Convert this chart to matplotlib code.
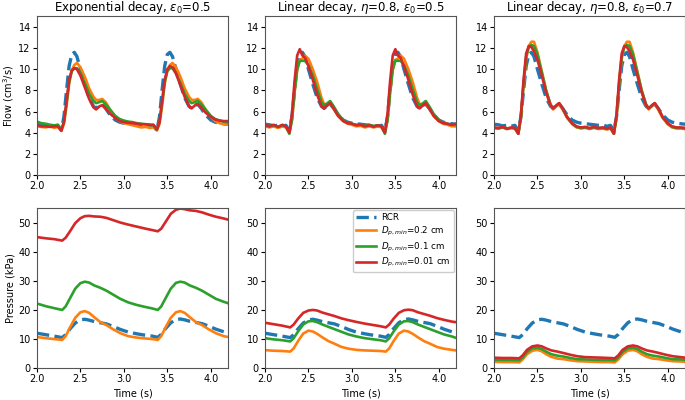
import matplotlib
matplotlib.use("Agg")
import matplotlib.pyplot as plt

# ---------------- data ----------------
titles = ["Exponential decay, $\\epsilon_0$=0.5",
          "Linear decay, $\\eta$=0.8, $\\epsilon_0$=0.5",
          "Linear decay, $\\eta$=0.8, $\\epsilon_0$=0.7"]
labels = ["RCR", "$D_{p,min}$=0.2 cm", "$D_{p,min}$=0.1 cm", "$D_{p,min}$=0.01 cm"]
xticks = [2.0, 2.5, 3.0, 3.5, 4.0]

t_flow = [2.00, 2.05, 2.10, 2.15, 2.20, 2.24, 2.28, 2.31, 2.34, 2.37, 2.40, 2.43, 2.46, 2.50,
          2.55, 2.60, 2.65, 2.68, 2.72, 2.75, 2.79, 2.84, 2.90, 2.95, 3.00, 3.05, 3.10, 3.15,
          3.20, 3.25, 3.30, 3.34, 3.38, 3.41, 3.44, 3.47, 3.50, 3.53, 3.56, 3.60, 3.65, 3.70,
          3.75, 3.78, 3.82, 3.85, 3.89, 3.94, 4.00, 4.05, 4.10, 4.15, 4.20]

flow_rcr = [4.80, 4.75, 4.65, 4.70, 4.62, 4.70, 4.20, 5.50, 8.00, 10.3, 11.4, 11.6, 11.2, 10.0,
            8.60, 7.30, 6.50, 6.30, 6.60, 6.70, 6.30, 5.70, 5.20, 5.00, 4.90, 4.85, 4.80, 4.75,
            4.70, 4.75, 4.60, 4.70, 4.20, 5.50, 8.00, 10.3, 11.4, 11.6, 11.2, 10.0, 8.60, 7.30,
            6.50, 6.30, 6.60, 6.70, 6.30, 5.70, 5.20, 5.00, 4.90, 4.85, 4.80]

# Exponential decay, eps0=0.5
flow_exp_02 = [4.60, 4.55, 4.50, 4.60, 4.45, 4.55, 4.20, 4.80, 6.50, 8.60, 9.90, 10.4, 10.6, 10.2,
               9.30, 8.20, 7.40, 7.10, 7.10, 7.20, 6.90, 6.20, 5.50, 5.10, 4.90, 4.80, 4.70, 4.60,
               4.50, 4.55, 4.45, 4.50, 4.20, 4.80, 6.50, 8.60, 9.90, 10.4, 10.6, 10.2, 9.30, 8.20,
               7.40, 7.10, 7.10, 7.20, 6.90, 6.20, 5.50, 5.10, 4.90, 4.80, 4.75]
flow_exp_01 = [5.05, 4.90, 4.85, 4.75, 4.70, 4.75, 4.30, 5.00, 6.80, 8.80, 9.80, 10.1, 10.1, 9.60,
               8.70, 7.70, 7.00, 6.80, 6.90, 7.00, 6.70, 6.20, 5.60, 5.30, 5.15, 5.05, 5.00, 4.90,
               4.85, 4.80, 4.75, 4.70, 4.30, 5.00, 6.80, 8.80, 9.80, 10.1, 10.1, 9.60, 8.70, 7.70,
               7.00, 6.80, 6.90, 7.00, 6.70, 6.20, 5.60, 5.30, 5.15, 5.05, 5.00]
flow_exp_001 = [4.70, 4.60, 4.60, 4.55, 4.60, 4.60, 4.20, 5.00, 7.00, 9.00, 9.90, 10.1, 10.0, 9.40,
                8.30, 7.20, 6.40, 6.20, 6.50, 6.60, 6.30, 5.80, 5.40, 5.10, 5.00, 4.95, 4.90, 4.85,
                4.80, 4.80, 4.75, 4.75, 4.30, 5.00, 7.00, 9.00, 10.0, 10.3, 10.2, 9.60, 8.50, 7.40,
                6.50, 6.30, 6.60, 6.70, 6.40, 5.90, 5.50, 5.25, 5.15, 5.10, 5.10]

# Linear decay, eta=0.8, eps0=0.5
flow_lin5_02 = [4.60, 4.50, 4.60, 4.45, 4.60, 4.50, 4.00, 5.20, 7.80, 9.90, 10.9, 11.0, 11.3, 11.0,
                10.0, 8.80, 7.30, 6.70, 6.60, 6.80, 6.30, 5.60, 5.10, 4.85, 4.75, 4.60, 4.65, 4.50,
                4.60, 4.50, 4.60, 4.50, 4.00, 5.20, 7.80, 9.90, 10.9, 11.0, 11.3, 11.0, 10.0, 8.80,
                7.30, 6.70, 6.60, 6.80, 6.30, 5.60, 5.10, 4.85, 4.75, 4.60, 4.60]
flow_lin5_01 = [4.70, 4.60, 4.70, 4.55, 4.70, 4.60, 3.90, 5.20, 7.90, 10.0, 10.8, 10.8, 10.8, 10.4,
                9.40, 8.10, 6.90, 6.60, 6.80, 7.00, 6.50, 5.80, 5.20, 4.95, 4.85, 4.75, 4.80, 4.65,
                4.75, 4.65, 4.70, 4.60, 3.90, 5.20, 7.90, 10.0, 10.8, 10.8, 10.8, 10.4, 9.40, 8.10,
                6.90, 6.60, 6.80, 7.00, 6.50, 5.80, 5.20, 4.95, 4.85, 4.75, 4.75]
flow_lin5_001 = [4.75, 4.60, 4.75, 4.55, 4.75, 4.60, 4.00, 5.80, 8.90, 11.3, 11.9, 11.3, 11.1, 10.3,
                 9.00, 7.60, 6.50, 6.30, 6.60, 6.80, 6.30, 5.60, 5.10, 4.90, 4.85, 4.70, 4.75, 4.60,
                 4.70, 4.55, 4.70, 4.60, 4.00, 5.80, 8.90, 11.3, 11.9, 11.3, 11.1, 10.3, 9.00, 7.60,
                 6.50, 6.30, 6.60, 6.80, 6.30, 5.60, 5.10, 4.90, 4.85, 4.75, 4.85]

# Linear decay, eta=0.8, eps0=0.7
flow_lin7_02 = [4.45, 4.40, 4.50, 4.35, 4.45, 4.40, 3.90, 5.40, 8.50, 11.0, 12.2, 12.6, 12.6, 11.6,
                9.80, 8.00, 6.60, 6.20, 6.50, 6.70, 6.20, 5.40, 4.80, 4.50, 4.40, 4.45, 4.35, 4.45,
                4.35, 4.40, 4.30, 4.40, 3.90, 5.40, 8.50, 11.0, 12.2, 12.6, 12.6, 11.6, 9.80, 8.00,
                6.60, 6.20, 6.50, 6.70, 6.20, 5.40, 4.80, 4.50, 4.40, 4.40, 4.35]
flow_lin7_01 = [4.45, 4.40, 4.50, 4.35, 4.45, 4.40, 3.90, 5.50, 8.70, 11.2, 12.1, 12.3, 12.2, 11.4,
                9.70, 8.00, 6.70, 6.30, 6.60, 6.80, 6.30, 5.50, 4.85, 4.55, 4.45, 4.50, 4.40, 4.50,
                4.40, 4.45, 4.35, 4.45, 3.90, 5.50, 8.70, 11.2, 12.1, 12.3, 12.2, 11.4, 9.70, 8.00,
                6.70, 6.30, 6.60, 6.80, 6.30, 5.50, 4.85, 4.55, 4.45, 4.45, 4.40]
flow_lin7_001 = [4.50, 4.45, 4.55, 4.40, 4.50, 4.45, 3.90, 5.70, 9.00, 11.5, 12.2, 12.1, 11.7, 10.9,
                 9.40, 7.80, 6.60, 6.30, 6.60, 6.80, 6.30, 5.50, 4.90, 4.60, 4.50, 4.55, 4.45, 4.55,
                 4.45, 4.50, 4.40, 4.50, 3.90, 5.70, 9.00, 11.5, 12.2, 12.1, 11.7, 10.9, 9.40, 7.80,
                 6.60, 6.30, 6.60, 6.80, 6.30, 5.50, 4.90, 4.60, 4.50, 4.50, 4.45]

t_pres = [2.00, 2.10, 2.20, 2.29, 2.33, 2.38, 2.44, 2.50, 2.55, 2.60, 2.66, 2.73, 2.80, 2.88,
          2.96, 3.05, 3.15, 3.25, 3.33, 3.39, 3.43, 3.48, 3.54, 3.60, 3.65, 3.70, 3.76, 3.83,
          3.90, 3.98, 4.06, 4.15, 4.20]

pres_rcr = [12.0, 11.5, 11.0, 10.5, 11.5, 13.5, 15.5, 16.6, 16.8, 16.5, 16.0, 15.6, 15.2, 14.3,
            13.3, 12.4, 11.8, 11.3, 11.0, 10.6, 11.6, 13.6, 15.6, 16.7, 16.9, 16.6, 16.1, 15.7,
            15.3, 14.4, 13.4, 12.5, 12.1]

pres_exp_02 = [10.7, 10.3, 10.0, 9.7, 11.0, 14.0, 17.3, 19.2, 19.6, 19.0, 17.5, 15.8, 14.8, 13.3,
               12.0, 11.0, 10.5, 10.2, 10.0, 9.7, 11.0, 14.0, 17.3, 19.2, 19.6, 19.0, 17.5, 15.8,
               14.8, 13.3, 12.0, 11.0, 10.7]
pres_exp_01 = [22.2, 21.3, 20.6, 20.0, 21.2, 24.0, 27.3, 29.2, 29.7, 29.4, 28.4, 27.6, 26.6, 25.2,
               23.8, 22.6, 21.7, 21.0, 20.5, 20.0, 21.2, 24.0, 27.3, 29.3, 29.7, 29.4, 28.4, 27.6,
               26.6, 25.2, 23.8, 22.8, 22.3]
pres_exp_001 = [45.0, 44.6, 44.3, 43.8, 44.8, 47.0, 49.8, 51.5, 52.2, 52.3, 52.1, 52.0, 51.6, 50.8,
                50.0, 49.3, 48.6, 47.9, 47.4, 47.0, 47.9, 50.2, 53.0, 54.4, 54.8, 54.6, 54.2, 54.0,
                53.5, 52.7, 52.0, 51.4, 51.0]

pres_lin5_02 = [6.2, 6.0, 5.9, 5.7, 6.8, 9.3, 11.9, 12.9, 12.6, 11.8, 10.6, 9.3, 8.4, 7.3,
                6.7, 6.3, 6.1, 6.0, 5.9, 5.7, 6.8, 9.3, 11.9, 12.9, 12.6, 11.8, 10.6, 9.3,
                8.4, 7.3, 6.7, 6.3, 6.1]
pres_lin5_01 = [10.3, 9.9, 9.6, 9.2, 10.3, 12.6, 15.0, 16.1, 16.2, 15.8, 15.0, 14.2, 13.4, 12.5,
                11.6, 10.9, 10.3, 9.9, 9.6, 9.2, 10.3, 12.6, 15.0, 16.1, 16.2, 15.8, 15.0, 14.2,
                13.4, 12.5, 11.6, 10.9, 10.4]
pres_lin5_001 = [15.6, 15.1, 14.6, 14.0, 15.0, 17.0, 19.0, 19.8, 20.0, 19.8, 19.1, 18.5, 17.9, 17.1,
                 16.5, 15.9, 15.3, 14.8, 14.4, 14.0, 15.0, 17.0, 19.0, 19.9, 20.1, 19.9, 19.2, 18.6,
                 18.0, 17.2, 16.6, 16.0, 15.8]

pres_lin7_02 = [2.2, 2.1, 2.1, 2.0, 3.0, 4.8, 6.0, 6.3, 5.8, 4.8, 3.9, 3.3, 3.1, 2.7,
                2.4, 2.3, 2.2, 2.1, 2.1, 2.0, 3.0, 4.8, 6.0, 6.3, 5.8, 4.8, 3.9, 3.3,
                3.1, 2.7, 2.4, 2.3, 2.2]
pres_lin7_01 = [2.9, 2.8, 2.8, 2.7, 3.7, 5.6, 6.8, 7.0, 6.6, 5.7, 4.8, 4.3, 4.0, 3.5,
                3.1, 3.0, 2.9, 2.8, 2.8, 2.7, 3.7, 5.6, 6.8, 7.0, 6.6, 5.7, 4.8, 4.3,
                4.0, 3.5, 3.1, 3.0, 2.9]
pres_lin7_001 = [3.6, 3.5, 3.5, 3.4, 4.4, 6.3, 7.5, 7.8, 7.5, 6.8, 6.1, 5.7, 5.2, 4.6,
                 4.1, 3.8, 3.7, 3.6, 3.5, 3.4, 4.4, 6.3, 7.5, 7.8, 7.5, 6.8, 6.1, 5.7,
                 5.2, 4.6, 4.1, 3.8, 3.6]

flows = [
    [flow_rcr, flow_exp_02, flow_exp_01, flow_exp_001],
    [flow_rcr, flow_lin5_02, flow_lin5_01, flow_lin5_001],
    [flow_rcr, flow_lin7_02, flow_lin7_01, flow_lin7_001],
]
pressures = [
    [pres_rcr, pres_exp_02, pres_exp_01, pres_exp_001],
    [pres_rcr, pres_lin5_02, pres_lin5_01, pres_lin5_001],
    [pres_rcr, pres_lin7_02, pres_lin7_01, pres_lin7_001],
]

# ---------------- style ----------------
colors = ["#1f77b4", "#ff7f0e", "#2ca02c", "#d62728"]
styles = ["--", "-", "-", "-"]
widths = [2.4, 1.9, 1.9, 1.9]

plt.rcParams["font.family"] = "DejaVu Sans"
fig = plt.figure(figsize=(6.85, 4.0), dpi=100)

lefts = [0.0540, 0.3869, 0.7212]
w = 0.2790
top_y, top_h = 0.5625, 0.3965
bot_y, bot_h = 0.0795, 0.4005

tick_fs = 7
for col in range(3):
    ax = fig.add_axes([lefts[col], top_y, w, top_h])
    for i in range(4):
        ax.plot(t_flow, flows[col][i], styles[i], color=colors[i], lw=widths[i])
    ax.set_xlim(2.0, 4.2)
    ax.set_ylim(0, 15)
    ax.set_xticks(xticks)
    ax.set_yticks(range(0, 15, 2))
    ax.set_title(titles[col], fontsize=8.5, pad=1)
    ax.tick_params(labelsize=tick_fs, length=3, pad=1.5)
    if col == 0:
        ax.set_ylabel("Flow (cm$^3$/s)", fontsize=7, labelpad=2)

    axb = fig.add_axes([lefts[col], bot_y, w, bot_h])
    for i in range(4):
        axb.plot(t_pres, pressures[col][i], styles[i], color=colors[i], lw=widths[i],
                 label=labels[i])
    axb.set_xlim(2.0, 4.2)
    axb.set_ylim(0, 55)
    axb.set_xticks(xticks)
    axb.set_yticks(range(0, 55, 10))
    axb.tick_params(labelsize=tick_fs, length=3, pad=1.5)
    axb.set_xlabel("Time (s)", fontsize=7, labelpad=3)
    if col == 0:
        axb.set_ylabel("Pressure (kPa)", fontsize=7, labelpad=2)
    if col == 1:
        axb.legend(loc="upper right", fontsize=6.3, handlelength=2.3, borderpad=0.35,
                   labelspacing=0.3, handletextpad=0.6, borderaxespad=0.25, framealpha=1)
    for a in (ax, axb):
        for s in a.spines.values():
            s.set_color("#555555")

fig.savefig("out.png", dpi=100)
